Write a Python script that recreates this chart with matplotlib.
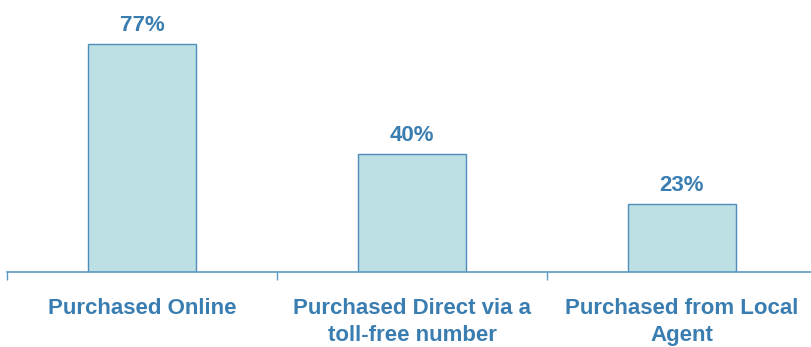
import matplotlib
matplotlib.use("Agg")
import matplotlib.pyplot as plt
from matplotlib.ticker import FixedLocator

categories = ["Purchased Online", "Purchased Direct via a\ntoll-free number", "Purchased from Local\nAgent"]
values = [77, 40, 23]
value_labels = ["77%", "40%", "23%"]

text_color = "#3A7DB1"
line_color = "#5B9AC4"
bar_fill = "#BCE0E3"
bar_edge = "#4F8EBC"

plt.rcParams["font.family"] = ["Liberation Sans", "DejaVu Sans"]

W, H = 812, 347
fig = plt.figure(figsize=(W / 100, H / 100), dpi=100)
# axes spans one category width per 270 px; the right boundary falls just past the edge
left_px, right_px = 7, 817
base_px, top_px = 272, 5
ax = fig.add_axes([left_px / W, (H - base_px) / H, (right_px - left_px) / W, (base_px - top_px) / H])

ymax = (base_px - top_px) / ((272 - 44) / 77)
ax.set_xlim(-0.5, len(categories) - 0.5)
ax.set_ylim(0, ymax)

x = list(range(len(categories)))
bars = ax.bar(x, values, width=0.4, color=bar_fill, edgecolor=bar_edge, linewidth=1.0, zorder=2)

for b, lab in zip(bars, value_labels):
    ax.annotate(lab, (b.get_x() + b.get_width() / 2, b.get_height()),
                xytext=(0, 9.3), textcoords="offset points", ha="center", va="baseline",
                fontsize=16, fontweight="bold", color=text_color)

for side in ("top", "right", "left"):
    ax.spines[side].set_visible(False)
ax.spines["bottom"].set_color(line_color)
ax.spines["bottom"].set_linewidth(1.2)
ax.set_yticks([])

ax.xaxis.set_major_locator(FixedLocator([i - 0.5 for i in range(len(categories) + 1)]))
ax.xaxis.set_major_formatter(plt.NullFormatter())
ax.xaxis.set_minor_locator(FixedLocator(x))
ax.set_xticklabels(categories, minor=True)
ax.tick_params(axis="x", which="major", direction="out", length=5.5, width=1.0, color=line_color)
ax.tick_params(axis="x", which="minor", length=0, pad=19, labelsize=16, labelcolor=text_color)
for t in ax.get_xticklabels(minor=True):
    t.set_fontweight("bold")
    t.set_linespacing(1.38)

fig.savefig("out.png", dpi=100)
